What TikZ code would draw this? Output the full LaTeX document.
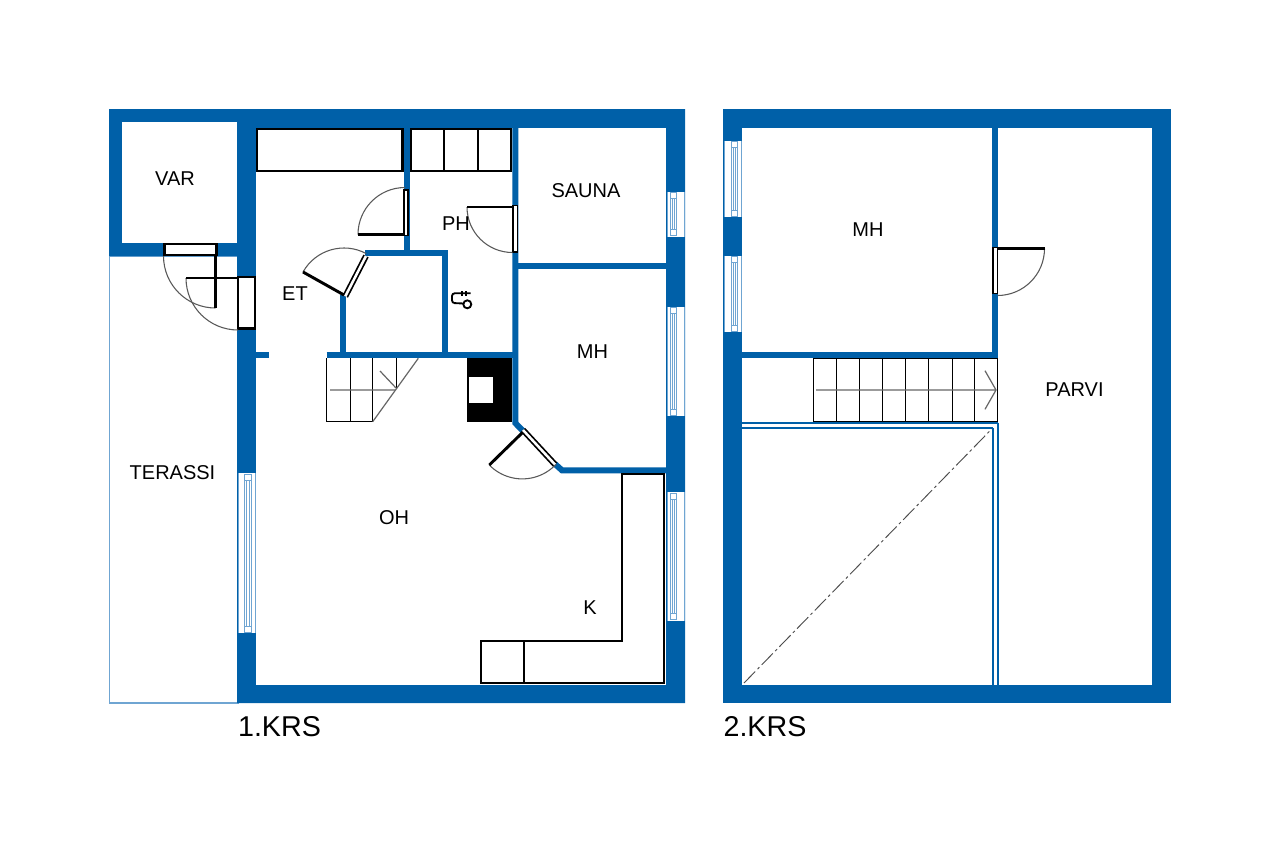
\documentclass[tikz,border=0pt]{standalone}
\usepackage{fontspec}
\setmainfont{Liberation Sans}
\definecolor{wallblue}{HTML}{0060A8}
\definecolor{glassblue}{HTML}{6FA5D2}
% window in a wall: x left, x of inner frame, y top, y bottom
\newcommand{\windowbay}[4]{%
  \fill[white] (#1,#3) rectangle (#1+18,#4);
  \draw[glass] (#1+0.5,#3) -- (#1+0.5,#4) (#1+17.5,#3) -- (#1+17.5,#4);
  \draw[glass] (#2,#3+1) rectangle (#2+6.5,#4-1);
  \draw[glass] (#2,#3+7) -- (#2+6.5,#3+7) (#2,#4-7) -- (#2+6.5,#4-7);
  \draw[glass] (#2+2,#3+7) -- (#2+2,#4-7) (#2+4.5,#3+7) -- (#2+4.5,#4-7);
}
% door leaf and swing: hinge, leaf angle, swing end angle, radius
\newcommand{\doorswing}[4]{%
  \draw[swing] (#1) ++(#2:#4) arc[start angle=#2,end angle=#3,radius=#4*0.75pt];
  \draw[leaf] (#1) -- ++(#2:#4);
}
\begin{document}
\begin{tikzpicture}[x=0.75pt,y=0.75pt,yscale=-1,
    wall/.style={line width=4.5pt,wallblue},
    glass/.style={line width=0.55pt,glassblue},
    fixture/.style={draw=black,line width=1.6pt,fill=white},
    frame/.style={draw=black,line width=1.8pt,fill=white},
    slimframe/.style={draw=black,line width=1.2pt,fill=white},
    diagframe/.style={black,line width=1.3pt,double=white,double distance=1.9pt},
    leaf/.style={black,line width=2.2pt},
    swing/.style={black!65,line width=0.8pt},
    stair/.style={black,line width=0.8pt},
    walkline/.style={black!60,line width=0.9pt},
    rail/.style={wallblue,line width=1.5pt},
    roomlabel/.style={inner sep=0pt,font=\fontsize{15}{18}\selectfont},
    floorlabel/.style={inner sep=0pt,font=\fontsize{21.5}{26}\selectfont}]
    \useasboundingbox (0,0) rectangle (1280,853);
    \fill[white] (0,0) rectangle (1280,853);
    % 1.KRS outer walls
    \draw[glassblue,line width=0.8pt] (109.5,256) rectangle (238,703);
    \fill[wallblue] (109,109) -- (685,109) -- (685,703) -- (237,703) -- (237,256) -- (109,256) -- cycle;
    \fill[white] (122,122) rectangle (237,243);
    \fill[white] (256,128) rectangle (666,685);
    % 1.KRS inner walls
    \draw[wall] (406.5,128) -- (406.5,250);
    \draw[wall] (365,253) -- (444.7,253) -- (444.7,355);
    \draw[wall] (342.7,295) -- (342.7,355);
    \draw[wall] (326.5,355.3) -- (515,355.3);
    \draw[wall] (515.3,128) -- (515.3,423) -- (523,431);
    \draw[wall] (518,265.5) -- (666,265.5);
    \draw[wall] (555,464) -- (562,470.3) -- (666,470.3);
    \fill[wallblue] (256,352.3) rectangle (269,358.3);
    % Windows
    \windowbay{666.5}{670.3}{191.7}{236.7}
    \windowbay{666.5}{670.3}{306.7}{416}
    \windowbay{666.5}{670.3}{492.3}{620.7}
    \windowbay{237.5}{244.8}{473.3}{633.3}
    % Closets
    \draw[fixture] (257,129) rectangle (402.5,171.3);
    \draw[fixture] (411,129) rectangle (511,171.3);
    \draw[black,line width=1.5pt] (444,129) -- (444,171.3) (478,129) -- (478,171.3);
    % Kitchen counter
    \draw[fixture] (621.7,474.3) -- (664.3,474.3) -- (664.3,683.3) -- (480.7,683.3) -- (480.7,640.7) -- (621.7,640.7) -- cycle;
    \draw[black,line width=1.5pt] (523.7,640.7) -- (523.7,683.3);
    % Stove
    \fill[black] (467.3,358.3) rectangle (512.3,421.7);
    \fill[white] (469.3,377.3) rectangle (492.7,402.7);
    % Stairs up
    \draw[stair] (396.3,358.3) -- (396.3,388.7);
    \draw[stair] (326.7,358.3) -- (326.7,421.7) -- (372.7,421.7) -- (372.7,358.3);
    \draw[stair] (350.7,358.3) -- (350.7,421.7);
    \draw[walkline] (372.7,421.7) -- (418.3,358.3);
    \draw[walkline] (330,390) -- (395,390) (380,371) -- (396,388);
    % Doors
    \draw[frame] (164.5,244) rectangle (216.5,254.7);
    \draw[frame] (238,277) rectangle (255,328.3);
    \draw[slimframe] (404,190) rectangle (408,235.5);
    \draw[slimframe] (513,205.5) rectangle (517.3,252);
    \doorswing{215.5,256}{90}{180}{52}
    \doorswing{238,278}{180}{90}{52}
    \doorswing{405,234.5}{180}{270}{47}
    \doorswing{512.5,207}{180}{90}{45.5}
    \doorswing{344,295}{209.3}{298.2}{47}
    \doorswing{522.3,432.7}{135.6}{43}{46.2}
    \draw[diagframe] (345.3,296.3) -- (366,256);
    \draw[diagframe] (523,430) -- (555,464.5);
    % Shower
    \draw[black,line width=1.4pt,rounded corners=2pt] (470.5,293.3) -- (452,293.3) -- (452,303) -- (463.5,303.5);
    \draw[black,line width=1.2pt] (461.7,291) -- (461.7,295.7) (466,291) -- (466,295.7);
    \draw[black,line width=1.4pt] (467.3,304.3) circle[radius=4*0.75pt];
    % 2.KRS walls
    \fill[wallblue] (723,109) rectangle (1171,703);
    \fill[white] (742,128) rectangle (1152,685);
    \draw[wall] (995.2,128) -- (995.2,358);
    \draw[wall] (742,355.3) -- (998,355.3);
    \windowbay{723.5}{731.3}{140.7}{217.3}
    \windowbay{723.5}{731.3}{255.7}{332.3}
    \draw[slimframe] (993.2,247.5) rectangle (997.5,293.3);
    \doorswing{997.5,248.5}{0}{90}{47}
    % Stairs to loft
    \draw[stair] (813.3,358.3) rectangle (997.3,421.7);
    \foreach \xstep in {836.7,859.3,882.7,905.3,928.3,952.3,974.7}
        \draw[stair] (\xstep,358.3) -- (\xstep,421.7);
    \draw[walkline] (816,390) -- (996,390) (985,370.7) -- (996,390) -- (985,409.3);
    % Open void
    \draw[rail] (742,422.7) -- (998,422.7) (742,428.2) -- (992.8,428.2);
    \draw[rail] (992.8,428.2) -- (992.8,685) (997.8,422.7) -- (997.8,685);
    \draw[black!70,line width=0.7pt,dash pattern=on 12pt off 2.5pt on 2pt off 2.5pt] (744,683) -- (991.7,429);
    % Labels
    \node[roomlabel] (var) at (175,178.7) {VAR};
    \node[roomlabel] (sauna) at (586,190.7) {SAUNA};
    \node[roomlabel] (ph) at (456,223.7) {PH};
    \node[roomlabel] (et) at (295,293.7) {ET};
    \node[roomlabel] (mhlower) at (592.5,351.7) {MH};
    \node[roomlabel] (terassi) at (172.5,472.7) {TERASSI};
    \node[roomlabel] (oh) at (394,517.7) {OH};
    \node[roomlabel] (k) at (590,607.7) {K};
    \node[roomlabel] (mhupper) at (868,229.7) {MH};
    \node[roomlabel] (parvi) at (1074.5,389.7) {PARVI};
    \node[floorlabel] (krsone) at (279.5,726.5) {1.KRS};
    \node[floorlabel] (krstwo) at (765,726.5) {2.KRS};
\end{tikzpicture}
\end{document}
